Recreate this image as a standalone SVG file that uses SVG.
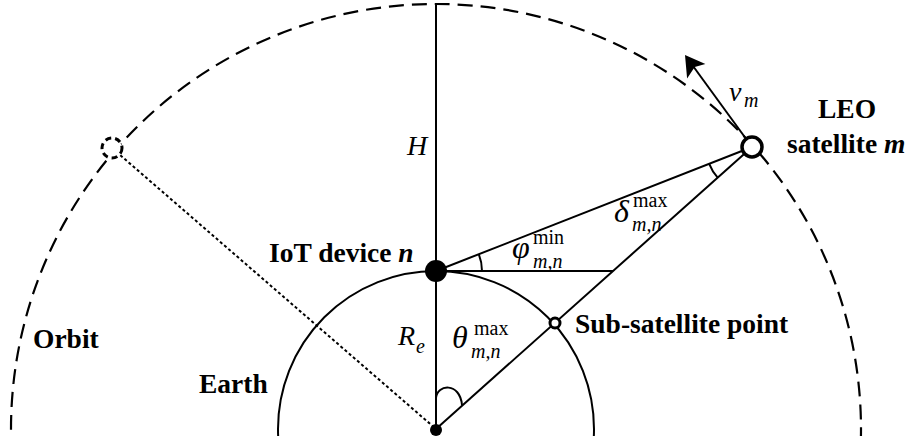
<svg xmlns="http://www.w3.org/2000/svg" width="908" height="436" viewBox="0 0 908 436">
<style>
.b{font-family:"Liberation Serif","Times New Roman",serif;font-weight:bold;font-size:27.5px;fill:#000}
.m{font-family:"Liberation Serif","Times New Roman",serif;font-style:italic;font-size:28px;fill:#000}
.g{font-family:"Liberation Serif","Times New Roman",serif;font-style:italic;font-size:32px;fill:#000}
.s{font-family:"Liberation Serif","Times New Roman",serif;font-size:20px;fill:#000}
.si{font-family:"Liberation Serif","Times New Roman",serif;font-style:italic;font-size:20px;fill:#000}
.ln{stroke:#000;stroke-width:2;fill:none}
</style>
<rect width="908" height="436" fill="#fff"/>
<g id="orbit">
<circle cx="436" cy="429" r="425" fill="none" stroke="#000" stroke-width="2.2" stroke-dasharray="15 8"/>
<text class="b" x="33" y="348">Orbit</text>
</g>
<g id="earth">
<circle cx="436" cy="429" r="158" fill="none" stroke="#000" stroke-width="2"/>
<text class="b" x="199" y="393">Earth</text>
</g>
<g id="connectors">
<line class="ln" x1="436" y1="4" x2="436" y2="429"/>
<line class="ln" x1="112" y1="148" x2="436" y2="429" stroke-dasharray="3 2.5"/>
<line class="ln" x1="436" y1="271" x2="752" y2="147"/>
<line class="ln" x1="436" y1="429" x2="752" y2="147"/>
<line class="ln" x1="436" y1="271" x2="613" y2="271"/>
<line class="ln" x1="752" y1="147" x2="693" y2="66"/>
<polygon points="685,55 705.4,63.9 694.7,67 687.1,78.6" fill="#000"/>
<path class="ln" d="M478.8,254.2 A46,46 0 0 1 482,271"/>
<path class="ln" d="M709.2,163.8 A46,46 0 0 0 717.7,177.6"/>
<path class="ln" d="M436,398 C437,384 460,382 462,405"/>
</g>
<g id="ghost-satellite">
<circle cx="112" cy="148" r="10" fill="#fff" stroke="#000" stroke-width="3" stroke-dasharray="6 4"/>
</g>
<g id="leo-satellite">
<circle cx="752" cy="147" r="10" fill="#fff" stroke="#000" stroke-width="3.5"/>
<text class="b" x="818" y="118">LEO</text>
<text class="b" x="787" y="153">satellite <tspan font-style="italic">m</tspan></text>
<text class="m" x="729" y="101">v</text><text class="si" x="744" y="107">m</text>
</g>
<g id="iot-device">
<circle cx="436" cy="271" r="11" fill="#000"/>
<text class="b" x="269" y="262">IoT device <tspan font-style="italic">n</tspan></text>
</g>
<g id="sub-satellite-point">
<circle cx="555" cy="323" r="5" fill="#fff" stroke="#000" stroke-width="3"/>
<text class="b" x="575" y="333">Sub-satellite point</text>
</g>
<g id="earth-center">
<circle cx="436" cy="430" r="6" fill="#000"/>
</g>
<g id="labels">
<text class="m" x="407" y="155">H</text>
<text class="m" x="398" y="345">R</text><text class="si" x="416" y="353">e</text>
<text class="g" x="452" y="348">θ</text><text class="s" x="474" y="335">max</text><text class="si" x="471" y="358">m,n</text>
<text class="g" x="512" y="258">φ</text><text class="s" x="533" y="244">min</text><text class="si" x="533" y="268">m,n</text>
<text class="g" x="614" y="222">δ</text><text class="s" x="633" y="207">max</text><text class="si" x="632" y="231">m,n</text>
</g>
</svg>
